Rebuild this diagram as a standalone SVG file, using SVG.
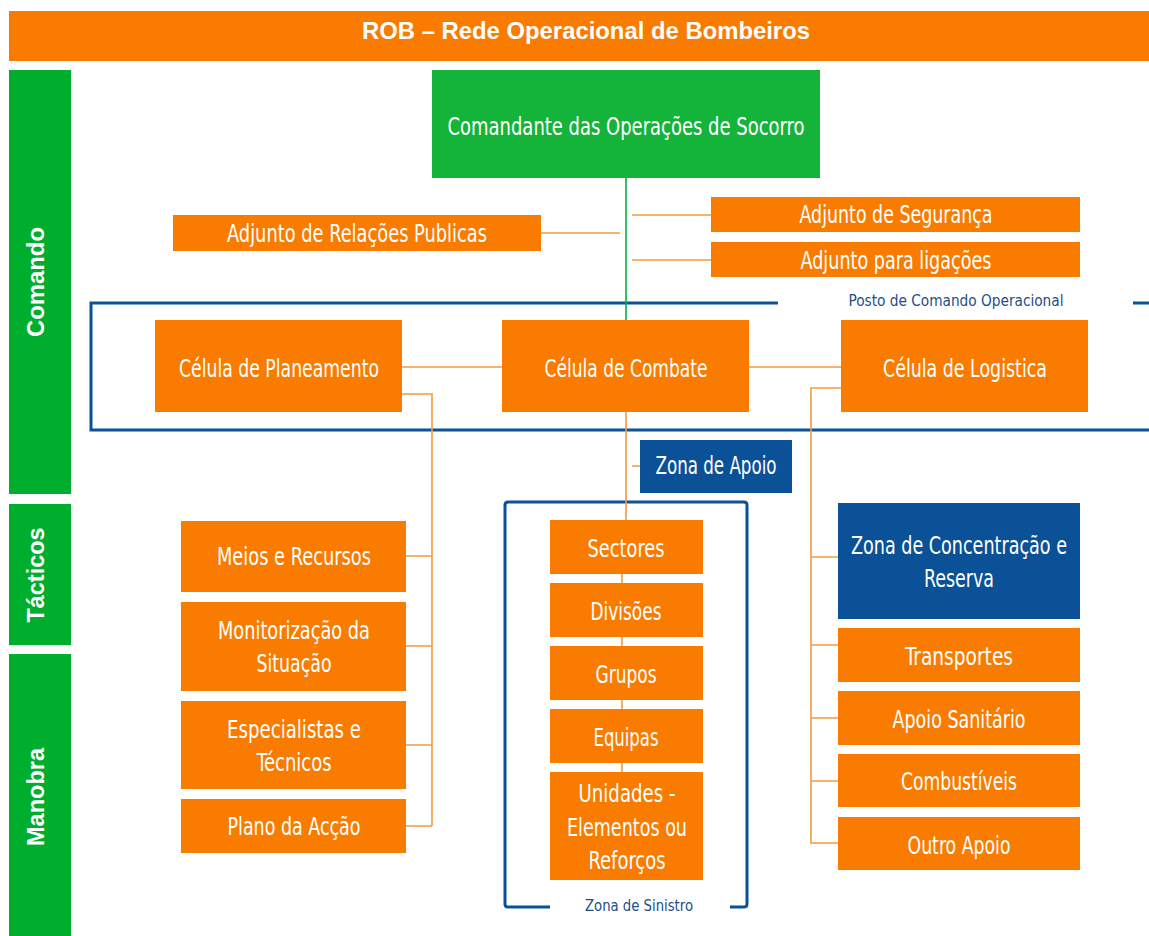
<svg xmlns="http://www.w3.org/2000/svg" width="1149" height="936" viewBox="0 0 1149 936">
<style>
.o{fill:#F97C00}
.b{fill:#0A5197}
.g{fill:#00AE2E}
.t{font-family:"Liberation Sans Narrow","DejaVu Sans Condensed",sans-serif;fill:#fff;font-size:24px;text-anchor:middle;dominant-baseline:central}
.s{font-family:"Liberation Sans Narrow","DejaVu Sans Condensed",sans-serif;fill:#1D4E86;font-size:16px;text-anchor:middle;dominant-baseline:central}
.v{font-family:"Liberation Sans Narrow","Liberation Sans",sans-serif;fill:#fff;font-size:24px;font-weight:bold;text-anchor:middle;dominant-baseline:central}
.c{fill:none;stroke:#F29A40;stroke-width:1.6}
.f{fill:none;stroke:#0A5197;stroke-width:3}
</style>
<rect width="1149" height="936" fill="#fff"/>
<g id="header">
<rect x="9" y="11" width="1140" height="50" class="o"/>
<text x="586" y="30" class="v" font-size="27" textLength="448" lengthAdjust="spacingAndGlyphs">ROB – Rede Operacional de Bombeiros</text>
</g>
<g id="side-comando"><rect x="9" y="70" width="62" height="424" class="g"/><text transform="translate(35,282) rotate(-90)" class="v" textLength="110" lengthAdjust="spacingAndGlyphs">Comando</text></g>
<g id="side-tacticos"><rect x="9" y="504" width="62" height="141" class="g"/><text transform="translate(35,575) rotate(-90)" class="v" textLength="95" lengthAdjust="spacingAndGlyphs">Tácticos</text></g>
<g id="side-manobra"><rect x="9" y="654" width="62" height="282" class="g"/><text transform="translate(35,797) rotate(-90)" class="v" textLength="98" lengthAdjust="spacingAndGlyphs">Manobra</text></g>

<g id="frames">
<path class="f" d="M778,303 H91 V430 H1152 M1133,303 H1152"/>
<text x="956" y="300" class="s" textLength="215" lengthAdjust="spacingAndGlyphs">Posto de Comando Operacional</text>
<path class="f" d="M550,907 H508 Q505,907 505,904 V505 Q505,502 508,502 H744 Q747,502 747,505 V904 Q747,907 744,907 H730"/>
<text x="639" y="905" class="s" textLength="108" lengthAdjust="spacingAndGlyphs">Zona de Sinistro</text>
</g>

<g id="connectors">
<line x1="626" y1="178" x2="626" y2="320" stroke="#00B040" stroke-width="1.6"/>
<path class="c" d="M541,233 H620 M632,215 H711 M632,260 H711"/>
<path class="c" d="M402,367 H502 M749,367 H841"/>
<path class="c" d="M402,394 H432 V826 M406,556 H432 M406,646 H432 M406,745 H432 M406,826 H432"/>
<path class="c" d="M626,412 V520 M632,466 H640 M622,574 V583 M622,637 V646 M622,700 V709 M622,763 V772"/>
<path class="c" d="M841,388 H811 V843 H838 M811,557 H838 M811,645 H838 M811,718 H838 M811,781 H838"/>
</g>

<g id="n-cos"><rect x="432" y="70" width="388" height="108" fill="#14B43A"/><text x="626" y="127" class="t" textLength="357" lengthAdjust="spacingAndGlyphs">Comandante das Operações de Socorro</text></g>
<g id="n-relacoes"><rect x="173" y="215" width="368" height="36" class="o"/><text x="357" y="234" class="t" textLength="260" lengthAdjust="spacingAndGlyphs">Adjunto de Relações Publicas</text></g>
<g id="n-seguranca"><rect x="711" y="197" width="369" height="35" class="o"/><text x="896" y="215" class="t" textLength="193" lengthAdjust="spacingAndGlyphs">Adjunto de Segurança</text></g>
<g id="n-ligacoes"><rect x="711" y="242" width="369" height="35" class="o"/><text x="896" y="261" class="t" textLength="191" lengthAdjust="spacingAndGlyphs">Adjunto para ligações</text></g>

<g id="n-planeamento"><rect x="155" y="320" width="247" height="92" class="o"/><text x="279" y="369" class="t" textLength="200" lengthAdjust="spacingAndGlyphs">Célula de Planeamento</text></g>
<g id="n-combate"><rect x="502" y="320" width="247" height="92" class="o"/><text x="626" y="369" class="t" textLength="163" lengthAdjust="spacingAndGlyphs">Célula de Combate</text></g>
<g id="n-logistica"><rect x="841" y="320" width="247" height="92" class="o"/><text x="965" y="369" class="t" textLength="164" lengthAdjust="spacingAndGlyphs">Célula de Logistica</text></g>

<g id="n-zona-apoio"><rect x="640" y="440" width="152" height="53" class="b"/><text x="716" y="466" class="t" textLength="121" lengthAdjust="spacingAndGlyphs">Zona  de Apoio</text></g>

<g id="n-meios"><rect x="181" y="521" width="225" height="71" class="o"/><text x="294" y="557" class="t" textLength="154" lengthAdjust="spacingAndGlyphs">Meios e Recursos</text></g>
<g id="n-monitorizacao"><rect x="181" y="602" width="225" height="89" class="o"/><text x="294" y="631" class="t" textLength="152" lengthAdjust="spacingAndGlyphs">Monitorização da</text><text x="294" y="664" class="t" textLength="75" lengthAdjust="spacingAndGlyphs">Situação</text></g>
<g id="n-especialistas"><rect x="181" y="701" width="225" height="88" class="o"/><text x="294" y="730" class="t" textLength="134" lengthAdjust="spacingAndGlyphs">Especialistas e</text><text x="294" y="763" class="t" textLength="75" lengthAdjust="spacingAndGlyphs">Técnicos</text></g>
<g id="n-plano"><rect x="181" y="799" width="225" height="54" class="o"/><text x="294" y="827" class="t" textLength="133" lengthAdjust="spacingAndGlyphs">Plano da Acção</text></g>

<g id="n-sectores"><rect x="550" y="520" width="153" height="54" class="o"/><text x="626" y="549" class="t" textLength="77" lengthAdjust="spacingAndGlyphs">Sectores</text></g>
<g id="n-divisoes"><rect x="550" y="583" width="153" height="54" class="o"/><text x="626" y="612" class="t" textLength="71" lengthAdjust="spacingAndGlyphs">Divisões</text></g>
<g id="n-grupos"><rect x="550" y="646" width="153" height="54" class="o"/><text x="626" y="675" class="t" textLength="61" lengthAdjust="spacingAndGlyphs">Grupos</text></g>
<g id="n-equipas"><rect x="550" y="709" width="153" height="54" class="o"/><text x="626" y="738" class="t" textLength="65" lengthAdjust="spacingAndGlyphs">Equipas</text></g>
<g id="n-unidades"><rect x="550" y="772" width="153" height="108" class="o"/><text x="627" y="794" class="t" textLength="97" lengthAdjust="spacingAndGlyphs">Unidades -</text><text x="627" y="828" class="t" textLength="120" lengthAdjust="spacingAndGlyphs">Elementos ou</text><text x="627" y="861" class="t" textLength="77" lengthAdjust="spacingAndGlyphs">Reforços</text></g>

<g id="n-concentracao"><rect x="838" y="503" width="242" height="116" class="b"/><text x="959" y="546" class="t" textLength="216" lengthAdjust="spacingAndGlyphs">Zona de Concentração e</text><text x="959" y="579" class="t" textLength="70" lengthAdjust="spacingAndGlyphs">Reserva</text></g>
<g id="n-transportes"><rect x="838" y="628" width="242" height="54" class="o"/><text x="959" y="657" class="t" textLength="108" lengthAdjust="spacingAndGlyphs">Transportes</text></g>
<g id="n-sanitario"><rect x="838" y="691" width="242" height="54" class="o"/><text x="959" y="720" class="t" textLength="133" lengthAdjust="spacingAndGlyphs">Apoio Sanitário</text></g>
<g id="n-combustiveis"><rect x="838" y="754" width="242" height="53" class="o"/><text x="959" y="782" class="t" textLength="116" lengthAdjust="spacingAndGlyphs">Combustíveis</text></g>
<g id="n-outro"><rect x="838" y="817" width="242" height="53" class="o"/><text x="959" y="846" class="t" textLength="103" lengthAdjust="spacingAndGlyphs">Outro Apoio</text></g>
</svg>
